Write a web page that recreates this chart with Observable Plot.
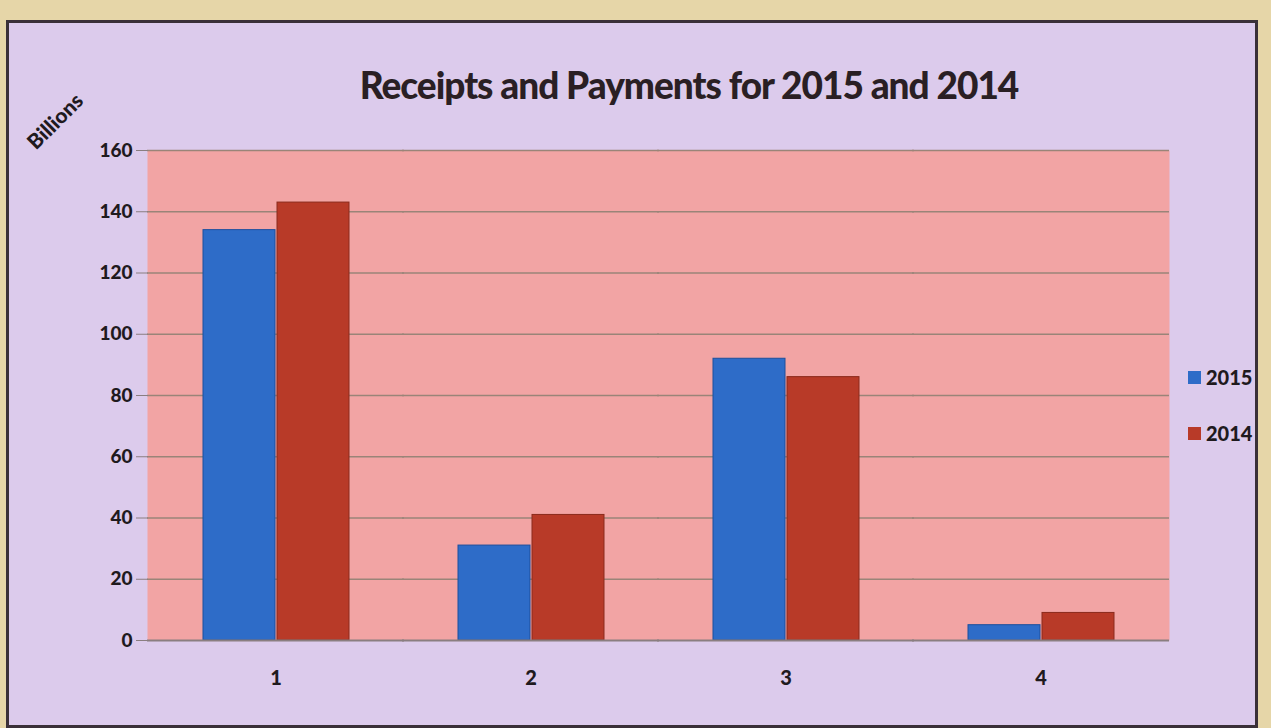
<!DOCTYPE html>
<html>
<head>
<meta charset="utf-8">
<script src="https://cdn.jsdelivr.net/npm/d3@7"></script>
<script src="https://cdn.jsdelivr.net/npm/@observablehq/plot@0.6"></script>
<style>
  body { margin: 0; width: 1271px; height: 728px; background: #e6d6a8; overflow: hidden; font-family: Lato, "Open Sans", sans-serif; }
  #frame { position: absolute; left: 6px; top: 20px; width: 1246px; height: 702px; background: #dccbec; border: 3px solid #3a3038; }
  #title { position: absolute; left: 0; top: 62px; width: 1378px; text-align: center; font-weight: 900; font-size: 37px; color: #2a1f24; letter-spacing: -1px; }
  #billions { position: absolute; left: 20px; top: 108px; font-weight: 900; font-size: 21px; color: #1f1a1e; transform: rotate(-45deg); transform-origin: center; }
  #chart { position: absolute; left: 0; top: 120px; }
  .leg { position: absolute; left: 1188px; font-weight: 900; font-size: 20px; color: #1f1a1e; display: flex; align-items: center; }
  .sw { width: 13px; height: 13px; margin-right: 5px; }
</style>
</head>
<body>
<div id="frame"></div>
<div id="title">Receipts and Payments for 2015 and 2014</div>
<div id="billions">Billions</div>
<div id="chart"></div>
<div class="leg" style="top:365px"><div class="sw" style="background:#2e6cc8"></div>2015</div>
<div class="leg" style="top:421px"><div class="sw" style="background:#b83a28"></div>2014</div>
<script>
const groups = ["1", "2", "3", "4"];
const series = ["2015", "2014"];
const values2015 = [134, 31, 92, 5];
const values2014 = [143, 41, 86, 9];
const yTicks = [0, 20, 40, 60, 80, 100, 120, 140, 160];
const colors = ["#2e6cc8", "#b83a28"];

const data = [];
groups.forEach((g, i) => {
  data.push({group: g, year: series[0], value: values2015[i]});
  data.push({group: g, year: series[1], value: values2014[i]});
});

const chart = Plot.plot({
  width: 1180,
  height: 600,
  marginLeft: 148,
  marginRight: 12,
  marginTop: 30,
  marginBottom: 80,
  style: {background: "transparent", fontFamily: "Lato, sans-serif"},
  fx: {domain: groups, padding: 0, label: null, axis: null},
  x: {domain: series, paddingInner: 0.03, paddingOuter: 0.73, axis: null},
  y: {domain: [0, 160], ticks: yTicks, label: null, axis: null},
  color: {domain: series, range: colors},
  marks: [
    Plot.frame({fill: "#f2a4a4", stroke: null, insetLeft: -1, insetRight: -1}),
    Plot.ruleY(yTicks.slice(1), {stroke: "#9a8478", strokeWidth: 1.5, insetLeft: -1, insetRight: -1}),
    Plot.barY(data, {fx: "group", x: "year", y: "value", fill: "year", stroke: d => d.year === "2015" ? "#1d4f9c" : "#8a2a1c", strokeWidth: 1}),
    Plot.ruleY([0], {stroke: "#8a7e80", strokeWidth: 2, insetLeft: -1, insetRight: -1}),
    Plot.axisY({ticks: yTicks, tickSize: 12, tickPadding: 4, fontSize: 19, fontWeight: 900, fill: "#1f1a1e", stroke: "#8a7e80"}),
    Plot.axisFx({anchor: "bottom", tickSize: 0, tickPadding: 30, fontSize: 20, fontWeight: 900, fill: "#1f1a1e"})
  ]
});

document.getElementById("chart").appendChild(chart);
</script>
</body>
</html>
